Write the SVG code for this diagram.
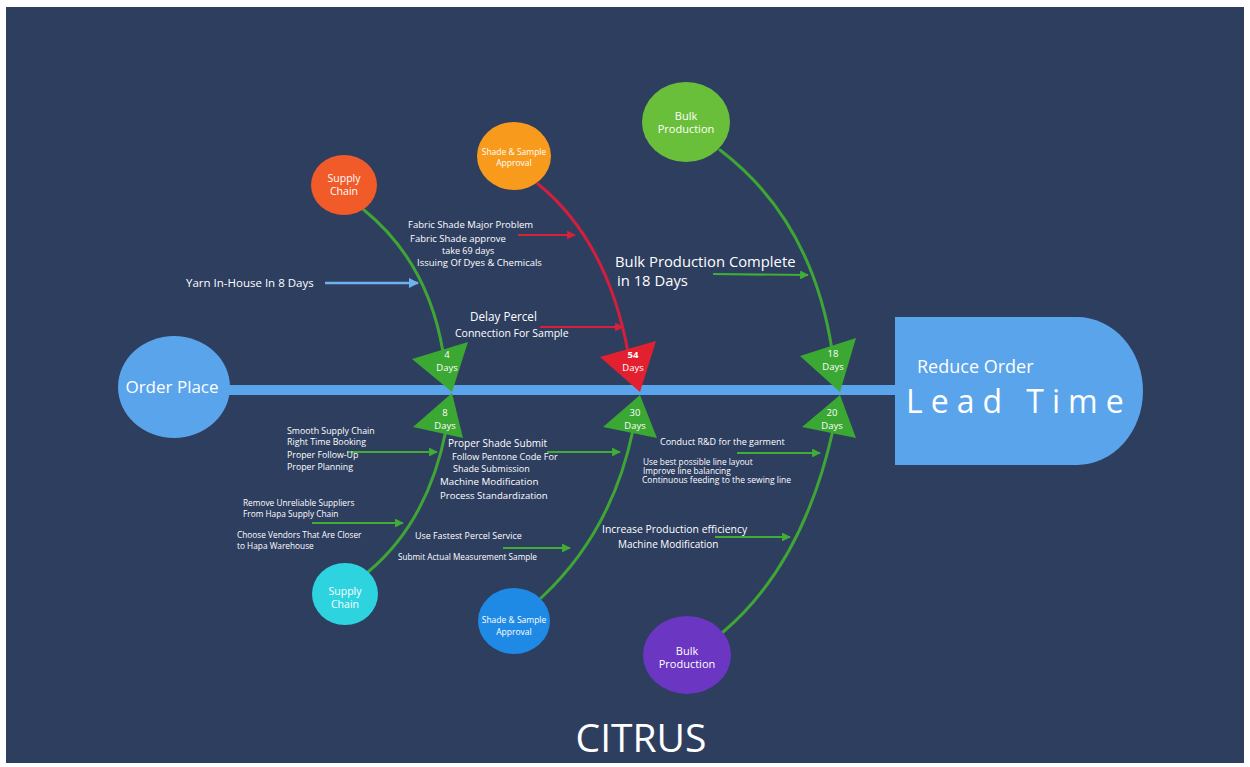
<svg xmlns="http://www.w3.org/2000/svg" width="1250" height="767" viewBox="0 0 1250 767">
  <defs>
    <marker id="ahGreen" viewBox="0 0 10 10" refX="9" refY="5" markerWidth="4" markerHeight="4" orient="auto" markerUnits="strokeWidth">
      <path d="M0,0 L10,5 L0,10 z" fill="#3fae35"/>
    </marker>
    <marker id="ahRed" viewBox="0 0 10 10" refX="9" refY="5" markerWidth="4" markerHeight="4" orient="auto" markerUnits="strokeWidth">
      <path d="M0,0 L10,5 L0,10 z" fill="#d8203a"/>
    </marker>
    <marker id="ahBlue" viewBox="0 0 10 10" refX="9" refY="5" markerWidth="4" markerHeight="4" orient="auto" markerUnits="strokeWidth">
      <path d="M0,0 L10,5 L0,10 z" fill="#6fb2f0"/>
    </marker>
  </defs>
  <style>
    text { font-family: "Open Sans", "Liberation Sans", sans-serif; fill: #ffffff; }
    .bone { fill: none; stroke: #3fa535; stroke-width: 3; stroke-linecap: round; }
    .boneRed { fill: none; stroke: #d31f3c; stroke-width: 3; stroke-linecap: round; }
    .arG { fill: none; stroke: #3fae35; stroke-width: 2.2; marker-end: url(#ahGreen); }
    .arR { fill: none; stroke: #d8203a; stroke-width: 2.2; marker-end: url(#ahRed); }
    .arB { fill: none; stroke: #6fb2f0; stroke-width: 2.5; marker-end: url(#ahBlue); }
    .tri { fill: #3aa832; }
    .triRed { fill: #e3202f; }
    .lbl { text-anchor: middle; }
    .day { font-size: 9.5px; text-anchor: middle; }
  </style>

  <!-- page frame -->
  <rect x="0" y="0" width="1250" height="767" fill="#ffffff"/>
  <rect x="6" y="7" width="1238" height="756" fill="#2e3e5f"/>

  <!-- spine -->
  <g id="spine">
    <rect x="220" y="385" width="680" height="10" fill="#5aa4ec"/>
  </g>

  <!-- bones and cause arrows -->
  <g id="connectors">
    <path class="bone" d="M364,210 Q428,262 443,352"/>
    <path class="boneRed" d="M538,184 Q607,240 628,352"/>
    <path class="bone" d="M720,150 Q812,220 832,350"/>
    <path class="bone" d="M446,430 Q428,522 368,572"/>
    <path class="bone" d="M633,430 Q612,532 541,598"/>
    <path class="bone" d="M833,430 Q803,565 722,633"/>

    <path class="arB" d="M325,283 L418,283"/>
    <path class="arR" d="M518,235 L575,235"/>
    <path class="arR" d="M540,327 L623,327"/>
    <path class="arG" d="M713,274 L808,275"/>
    <path class="arG" d="M347,452 L437,452"/>
    <path class="arG" d="M312,523 L403,523"/>
    <path class="arG" d="M547,452 L620,452"/>
    <path class="arG" d="M503,548 L570,548"/>
    <path class="arG" d="M737,453 L820,453"/>
    <path class="arG" d="M715,537 L790,537"/>
  </g>

  <!-- day markers on the spine -->
  <g id="marker-4days">
    <polygon class="tri" points="412,359 468,342 452,392"/>
    <text class="day" x="447" y="358">4</text>
    <text class="day" x="447" y="371">Days</text>
  </g>
  <g id="marker-8days">
    <polygon class="tri" points="452,393 413,427 463,438"/>
    <text class="day" x="445" y="416">8</text>
    <text class="day" x="445" y="429">Days</text>
  </g>
  <g id="marker-54days">
    <polygon class="triRed" points="600,357 656,341 640,392"/>
    <text class="day" x="633" y="358" font-weight="bold">54</text>
    <text class="day" x="633" y="371">Days</text>
  </g>
  <g id="marker-30days">
    <polygon class="tri" points="640,395 603,427 657,438"/>
    <text class="day" x="635" y="416">30</text>
    <text class="day" x="635" y="429">Days</text>
  </g>
  <g id="marker-18days">
    <polygon class="tri" points="800,356 856,338 840,392"/>
    <text class="day" x="833" y="357">18</text>
    <text class="day" x="833" y="370">Days</text>
  </g>
  <g id="marker-20days">
    <polygon class="tri" points="840,395 802,427 856,438"/>
    <text class="day" x="832" y="416">20</text>
    <text class="day" x="832" y="429">Days</text>
  </g>

  <!-- tail: order place -->
  <g id="order-place">
    <ellipse cx="174" cy="387" rx="56" ry="51" fill="#5aa4ec"/>
    <text class="lbl" x="172" y="393" font-size="17">Order Place</text>
  </g>

  <!-- head: reduce order lead time -->
  <g id="lead-time">
    <path d="M895,317 L1077,317 A66,74 0 0 1 1077,465 L895,465 Z" fill="#5aa4ec"/>
    <text x="917" y="373" font-size="18">Reduce Order</text>
    <text x="906" y="413" font-size="32" letter-spacing="8">Lead Time</text>
  </g>

  <!-- category circles -->
  <g id="supply-chain-top">
    <ellipse cx="344" cy="185" rx="33" ry="30" fill="#f15a29"/>
    <text class="lbl" font-size="10.5" x="344" y="182">Supply</text>
    <text class="lbl" font-size="10.5" x="344" y="195">Chain</text>
  </g>
  <g id="shade-sample-top">
    <ellipse cx="514" cy="156" rx="37" ry="34" fill="#f89b1c"/>
    <text class="lbl" font-size="8.5" x="514" y="155">Shade &amp; Sample</text>
    <text class="lbl" font-size="8.5" x="514" y="166">Approval</text>
  </g>
  <g id="bulk-production-top">
    <ellipse cx="686" cy="122" rx="44" ry="40" fill="#6abf3a"/>
    <text class="lbl" font-size="11" x="686" y="120">Bulk</text>
    <text class="lbl" font-size="11" x="686" y="133">Production</text>
  </g>
  <g id="supply-chain-bottom">
    <ellipse cx="345" cy="594" rx="33" ry="31" fill="#2ed3e0"/>
    <text class="lbl" font-size="10.5" x="345" y="595">Supply</text>
    <text class="lbl" font-size="10.5" x="345" y="608">Chain</text>
  </g>
  <g id="shade-sample-bottom">
    <ellipse cx="514" cy="621" rx="36" ry="33" fill="#1f8ae6"/>
    <text class="lbl" font-size="8.5" x="514" y="623">Shade &amp; Sample</text>
    <text class="lbl" font-size="8.5" x="514" y="635">Approval</text>
  </g>
  <g id="bulk-production-bottom">
    <ellipse cx="687" cy="655" rx="44" ry="39" fill="#6a36c2"/>
    <text class="lbl" font-size="11" x="687" y="655">Bulk</text>
    <text class="lbl" font-size="11" x="687" y="668">Production</text>
  </g>

  <!-- cause notes, upper side -->
  <g id="notes-upper">
    <text font-size="9.5" x="408" y="228">Fabric Shade Major Problem</text>
    <text font-size="9.5" x="410" y="242">Fabric Shade approve</text>
    <text font-size="9" x="442" y="254">take 69 days</text>
    <text font-size="9.5" x="417" y="266">Issuing Of Dyes &amp; Chemicals</text>
    <text font-size="11.5" x="186" y="287">Yarn In-House In 8 Days</text>
    <text font-size="11.7" x="470" y="321">Delay Percel</text>
    <text font-size="10.5" x="455" y="337">Connection For Sample</text>
    <text font-size="14.8" x="615" y="267">Bulk Production Complete</text>
    <text font-size="14.8" x="617" y="286">in 18 Days</text>
  </g>

  <!-- cause notes, lower side -->
  <g id="notes-lower">
    <text font-size="8.8" x="287" y="434">Smooth Supply Chain</text>
    <text font-size="8.8" x="287" y="445">Right Time Booking</text>
    <text font-size="8.8" x="287" y="458">Proper Follow-Up</text>
    <text font-size="8.8" x="287" y="470">Proper Planning</text>
    <text font-size="8.3" x="243" y="506">Remove Unreliable Suppliers</text>
    <text font-size="8.3" x="243" y="517">From Hapa Supply Chain</text>
    <text font-size="8.3" x="237" y="538">Choose Vendors That Are Closer</text>
    <text font-size="8.3" x="237" y="549">to Hapa Warehouse</text>
    <text font-size="10" x="448" y="447">Proper Shade Submit</text>
    <text font-size="9.1" x="452" y="460">Follow Pentone Code For</text>
    <text font-size="9" x="453" y="472">Shade Submission</text>
    <text font-size="9.8" x="440" y="485">Machine Modification</text>
    <text font-size="9.6" x="440" y="499">Process Standardization</text>
    <text font-size="8.9" x="415" y="539">Use Fastest Percel Service</text>
    <text font-size="8.2" x="398" y="560">Submit Actual Measurement Sample</text>
    <text font-size="9" x="660" y="445">Conduct R&amp;D for the garment</text>
    <text font-size="8.3" x="643" y="465">Use best possible line layout</text>
    <text font-size="8.3" x="643" y="474">Improve line balancing</text>
    <text font-size="8.5" x="642" y="483">Continuous feeding to the sewing line</text>
    <text font-size="10.4" x="602" y="533">Increase Production efficiency</text>
    <text font-size="10" x="618" y="548">Machine Modification</text>
  </g>

  <!-- brand -->
  <g id="brand">
    <text class="lbl" x="641" y="752" font-size="39">CITRUS</text>
  </g>
</svg>
